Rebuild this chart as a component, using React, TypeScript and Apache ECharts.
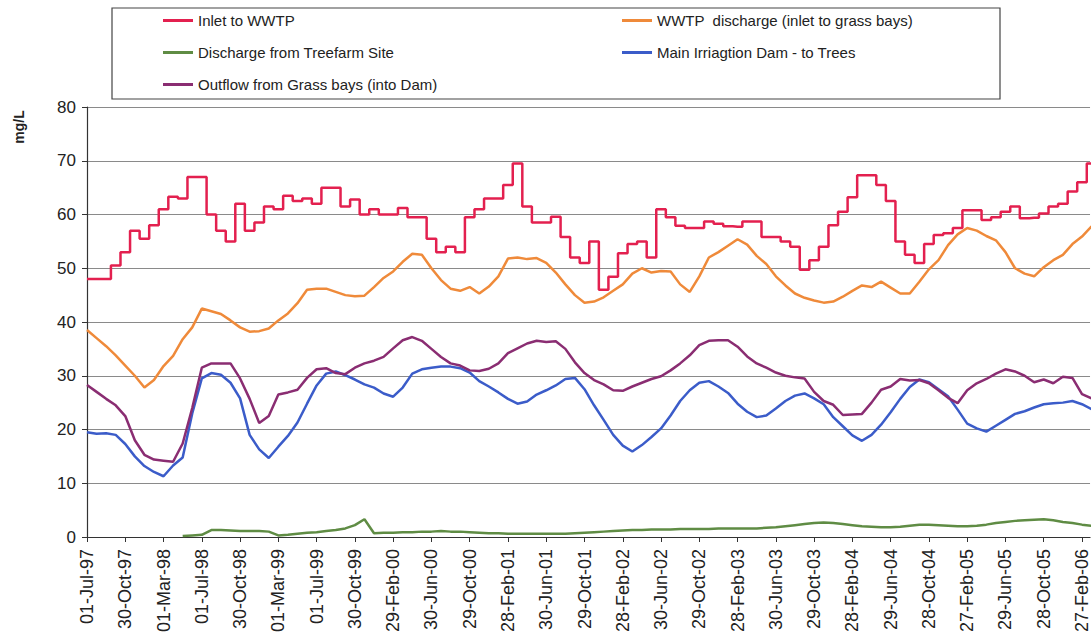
import React, { useEffect, useRef } from "react";
import * as echarts from "echarts";

// Tick labels along the date axis (one every ~122 days)
const tickLabels = [
  "01-Jul-97", "30-Oct-97", "01-Mar-98", "01-Jul-98", "30-Oct-98", "01-Mar-99",
  "01-Jul-99", "30-Oct-99", "29-Feb-00", "30-Jun-00", "29-Oct-00", "28-Feb-01",
  "30-Jun-01", "29-Oct-01", "28-Feb-02", "30-Jun-02", "29-Oct-02", "28-Feb-03",
  "30-Jun-03", "29-Oct-03", "28-Feb-04", "29-Jun-04", "28-Oct-04", "27-Feb-05",
  "29-Jun-05", "28-Oct-05", "27-Feb-06",
];

// samples are taken every quarter of a tick-label interval
const samplesPerLabel = 4;

const seriesNames = [
  "Inlet to WWTP",
  "WWTP  discharge (inlet to grass bays)",
  "Discharge from Treefarm Site",
  "Main Irriagtion Dam - to Trees",
  "Outflow from Grass bays (into Dam)",
];

const seriesColors = ["#e3204f", "#ef8a3a", "#5f8c44", "#3b5cc9", "#8a2d72"];

const inletWWTP = [
  48, 48, 48, 50.5, 53, 57, 55.5, 58, 61, 63.3,
  63, 67, 67, 60, 57, 55, 62, 57, 58.5, 61.5,
  61, 63.5, 62.5, 63, 62, 65, 65, 61.5, 62.8, 60,
  61, 60, 60, 61.2, 59.5, 59.5, 55.5, 53, 54, 53,
  59.5, 61, 63, 63, 65.5, 69.5, 61.5, 58.5, 58.5, 59.6,
  55.8, 52, 51, 55, 46, 48.4, 52.8, 54.5, 55, 52,
  61, 59.5, 57.9, 57.5, 57.5, 58.7, 58.3, 57.8, 57.7, 58.7,
  58.7, 55.8, 55.8, 55, 54, 49.7, 51.5, 54, 58, 60.5,
  63.2, 67.3, 67.3, 65.5, 62.5, 55, 52.5, 51, 54.5, 56.2,
  56.5, 57.5, 60.8, 60.8, 59, 59.5, 60.5, 61.5, 59.3, 59.4,
  60.2, 61.5, 62, 64.3, 66, 69.5,
];

const wwtpDischarge = [
  38.5, 37, 35.5, 33.8, 31.9, 30, 27.8, 29.2, 31.8, 33.7,
  36.8, 39, 42.5, 42, 41.5, 40.3, 39, 38.2, 38.3, 38.8,
  40.3, 41.6, 43.5, 46, 46.2, 46.2, 45.6, 45, 44.8, 44.9,
  46.5, 48.2, 49.4, 51.2, 52.7, 52.5, 50, 47.8, 46.2, 45.8,
  46.5, 45.3, 46.6, 48.5, 51.8, 52, 51.7, 51.9, 51, 49.2,
  47, 45, 43.6, 43.8, 44.6, 45.8, 47, 49, 50, 49.2,
  49.5, 49.4, 47, 45.6, 48.5, 52, 53, 54.2, 55.4, 54.4,
  52.3, 50.8, 48.5, 46.8, 45.3, 44.5, 44, 43.6, 43.8, 44.7,
  45.8, 46.8, 46.5, 47.5, 46.4, 45.3, 45.3, 47.5, 49.8, 51.5,
  54.3, 56.3, 57.5, 57, 56, 55.2, 53, 50, 49, 48.5,
  50.2, 51.5, 52.5, 54.5, 55.9, 57.8,
];

const treefarmDischarge = [
  null, null, null, null, null, null, null, null, null, null,
  0.2, 0.3, 0.4, 1.3, 1.3, 1.2, 1.1, 1.1, 1.1, 1.0,
  0.3, 0.4, 0.6, 0.8, 0.9, 1.1, 1.3, 1.6, 2.2, 3.3,
  0.7, 0.8, 0.8, 0.9, 0.9, 1.0, 1.0, 1.1, 1.0, 1.0,
  0.9, 0.8, 0.7, 0.7, 0.6, 0.6, 0.6, 0.6, 0.6, 0.6,
  0.6, 0.7, 0.8, 0.9, 1.0, 1.1, 1.2, 1.3, 1.3, 1.4,
  1.4, 1.4, 1.5, 1.5, 1.5, 1.5, 1.6, 1.6, 1.6, 1.6,
  1.6, 1.7, 1.8, 2.0, 2.2, 2.4, 2.6, 2.7, 2.6, 2.4,
  2.2, 2.0, 1.9, 1.8, 1.8, 1.9, 2.1, 2.3, 2.3, 2.2,
  2.1, 2.0, 2.0, 2.1, 2.3, 2.6, 2.8, 3.0, 3.1, 3.2,
  3.3, 3.1, 2.8, 2.6, 2.3, 2.1,
];

const irrigationDam = [
  19.5, 19.2, 19.3, 19, 17.3, 15, 13.2, 12.1, 11.3, 13.3,
  14.8, 23, 29.5, 30.5, 30.2, 28.7, 25.8, 19, 16.3, 14.7,
  16.8, 18.8, 21.3, 24.8, 28.2, 30.4, 30.8, 30.1, 29.3, 28.4,
  27.8, 26.7, 26.1, 27.8, 30.4, 31.2, 31.5, 31.7, 31.7, 31.4,
  30.6, 29, 28, 26.9, 25.7, 24.8, 25.2, 26.5, 27.3, 28.2,
  29.4, 29.6, 27.5, 24.5, 21.8, 19, 17, 15.9, 17.1, 18.6,
  20.2, 22.6, 25.3, 27.3, 28.7, 29, 28, 26.8, 24.8, 23.3,
  22.3, 22.6, 23.9, 25.3, 26.3, 26.7, 25.8, 24.7, 22.3, 20.6,
  18.9, 17.9, 19, 20.9, 23.2, 25.7, 27.9, 29.3, 28.8, 27.5,
  26.2, 23.7, 21.1, 20.2, 19.6, 20.7, 21.8, 22.9, 23.4, 24.1,
  24.7, 24.9, 25, 25.3, 24.7, 23.8,
];

const grassBaysOutflow = [
  28.3, 27, 25.7, 24.5, 22.5, 18, 15.3, 14.4, 14.2, 14,
  17.4, 24, 31.5, 32.3, 32.3, 32.3, 29.5, 25.7, 21.2, 22.5,
  26.5, 26.9, 27.4, 29.6, 31.2, 31.4, 30.5, 30.3, 31.5, 32.3,
  32.8, 33.5, 35.1, 36.6, 37.2, 36.5, 35, 33.5, 32.3, 31.9,
  31, 30.9, 31.3, 32.3, 34.2, 35.1, 36, 36.5, 36.3, 36.4,
  35, 32.5, 30.5, 29.2, 28.4, 27.3, 27.2, 28, 28.7, 29.4,
  29.9, 31, 32.3, 33.8, 35.7, 36.5, 36.6, 36.6, 35.4, 33.6,
  32.3, 31.5, 30.6, 30, 29.7, 29.5, 27, 25.3, 24.6, 22.7,
  22.8, 22.9, 25, 27.4, 28, 29.4, 29.1, 29.2, 28.6, 27.3,
  25.9, 24.9, 27.3, 28.6, 29.4, 30.4, 31.2, 30.8, 30, 28.8,
  29.3, 28.6, 29.8, 29.6, 26.6, 25.8,
];

const allValues = [inletWWTP, wwtpDischarge, treefarmDischarge, irrigationDam, grassBaysOutflow];

const FONT = "Liberation Sans, Arial, sans-serif";

export default function App() {
  const ref = useRef<HTMLDivElement>(null);

  useEffect(() => {
    if (!ref.current) return;
    const chart = echarts.init(ref.current, undefined, { renderer: "svg" });

    const series = allValues.map((vals, si) => ({
      name: seriesNames[si],
      type: "line",
      data: vals.map((v, i) => [i / samplesPerLabel, v]),
      showSymbol: false,
      symbol: "none",
      step: si === 0 ? "middle" : undefined,
      connectNulls: false,
      lineStyle: { color: seriesColors[si], width: 2.5 },
      itemStyle: { color: seriesColors[si] },
      z: 2,
    }));

    // legend positions: two columns, row-major order
    const legendPos = [
      { left: 163, top: 13 },
      { left: 622, top: 13 },
      { left: 163, top: 45 },
      { left: 622, top: 45 },
      { left: 163, top: 77 },
    ];

    const legends = seriesNames.map((n, i) => ({
      data: [n],
      left: legendPos[i].left,
      top: legendPos[i].top,
      padding: 0,
      icon: "rect",
      itemWidth: 30,
      itemHeight: 3,
      selectedMode: false,
      textStyle: { fontFamily: FONT, fontSize: 15, color: "#222" },
    }));

    chart.setOption({
      animation: false,
      backgroundColor: "#fff",
      grid: { left: 87, top: 107, right: 0, bottom: 100 },
      legend: legends,
      graphic: [
        {
          type: "rect",
          shape: { x: 112, y: 8, width: 888, height: 91 },
          style: { fill: "#fff", stroke: "#444", lineWidth: 1.2 },
          z: -1,
        },
        {
          type: "text",
          x: 19,
          y: 127,
          rotation: Math.PI / 2,
          style: {
            text: "mg/L",
            fontFamily: FONT,
            fontWeight: "bold",
            fontSize: 14,
            fill: "#222",
            align: "center",
            verticalAlign: "middle",
          },
        },
      ],
      xAxis: {
        type: "value",
        min: 0,
        max: 26.21,
        interval: 1,
        axisLine: { show: true, onZero: false, lineStyle: { color: "#333", width: 1.2 } },
        axisTick: { show: true, length: 5, lineStyle: { color: "#333" } },
        splitLine: { show: false },
        axisLabel: {
          rotate: 90,
          margin: 12,
          fontFamily: FONT,
          fontSize: 18,
          color: "#222",
          showMaxLabel: false,
          formatter: (v: number) => {
            const r = Math.round(v);
            return Math.abs(v - r) < 1e-6 && tickLabels[r] ? tickLabels[r] : "";
          },
        },
      },
      yAxis: {
        type: "value",
        min: 0,
        max: 80,
        interval: 10,
        axisLine: { show: true, lineStyle: { color: "#333", width: 1.2 } },
        axisTick: { show: true, length: 5, lineStyle: { color: "#333" } },
        splitLine: { show: true, lineStyle: { color: "#8a8a8a", width: 1 } },
        axisLabel: { margin: 11, fontFamily: FONT, fontSize: 17, color: "#222" },
      },
      series,
    });

    return () => chart.dispose();
  }, []);

  return (
    <div
      ref={ref}
      style={{ position: "absolute", left: 0, top: 0, width: 1091, height: 637 }}
    />
  );
}
